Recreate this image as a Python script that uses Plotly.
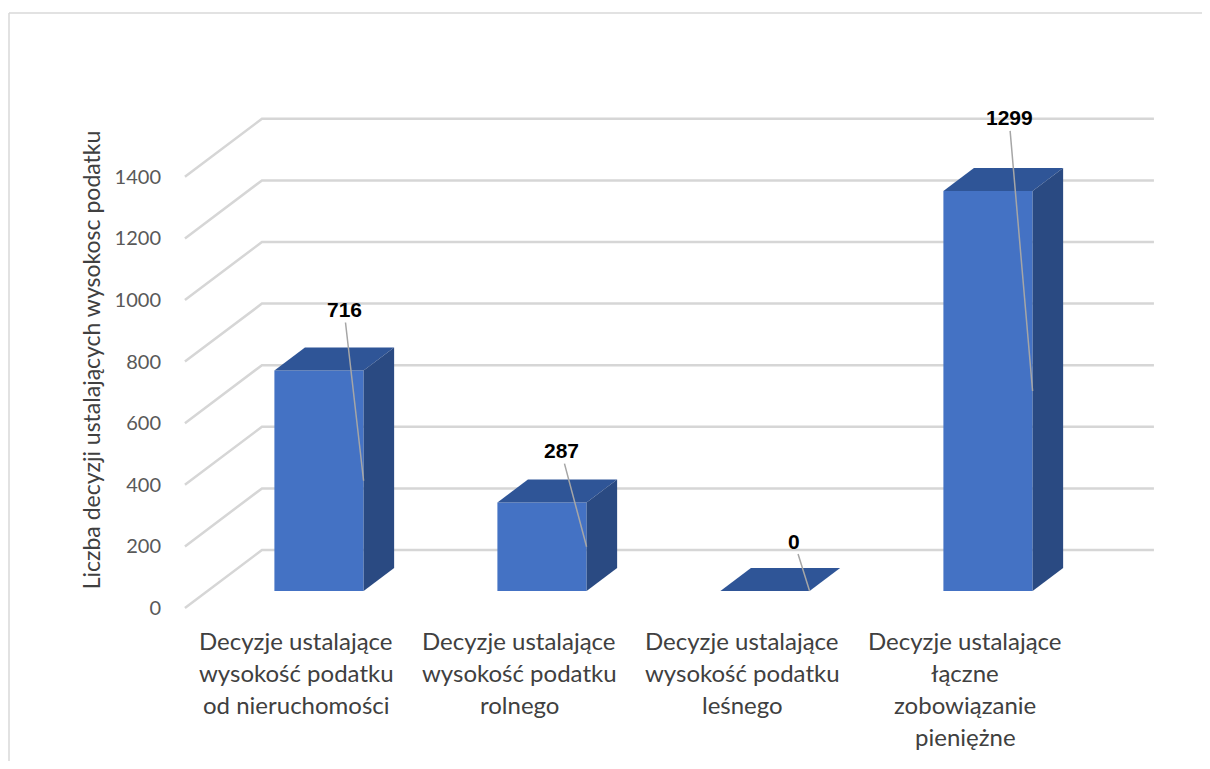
import plotly.graph_objects as go

# ---------------- data ----------------
categories = [
    "Decyzje ustalające<br>wysokość podatku<br>od nieruchomości",
    "Decyzje ustalające<br>wysokość podatku<br>rolnego",
    "Decyzje ustalające<br>wysokość podatku<br>leśnego",
    "Decyzje ustalające<br>łączne<br>zobowiązanie<br>pieniężne",
]
values = [716, 287, 0, 1299]
y_ticks = [0, 200, 400, 600, 800, 1000, 1200, 1400]
y_title = "Liczba decyzji ustalających wysokosc podatku"

# ---------------- styling / geometry ----------------
OFF = 8                                    # browser body margin
W, H = 1210 - 2 * OFF, 769 - 2 * OFF
L, R, T, B = 170, 1160, 100, 620          # plot area in screen px
CAT_PX = 223.0                             # px per category
X_ORIGIN_PX = 207.5                        # px of left edge of category band (bar front plane)
ZERO_PX = 591.0                            # px of value 0 at bar front plane
K = 0.308                                  # px per value unit
SLOPE = 77.0 / 58.0                        # depth: dx px per dy px
BAR_W = 0.4
D_AXIS_FRONT, D_BAR_BACK, D_WALL = -17.0, 23.0, 41.0

FRONT = "#4472C4"
TOP = "#2F5597"
SIDE = "#2A4A82"
GRID = "#d6d6d6"
FONT = "Lato, Open Sans, sans-serif"

# label offsets (px) relative to bar top centre
LABEL_DX_PX = [25, 19, 29, 21]
LABEL_DY_PX = [61, 52, 50, 73]

x0 = (L - X_ORIGIN_PX) / CAT_PX - 0.5
x1 = x0 + (R - L) / CAT_PX
y1 = (ZERO_PX - T) / K
y0 = (ZERO_PX - B) / K


def proj(x, v, d):
    """Shift a point (category x, value v) back by depth d (px)."""
    return x + SLOPE * d / CAT_PX, v + d / K


n = len(categories)
fig = go.Figure()

# ---------- gridlines (left wall + back wall), drawn beneath the bars ----------
for v in y_ticks:
    a = proj(-0.5, v, D_AXIS_FRONT)
    b = proj(-0.5, v, D_WALL)
    c = proj(n - 0.5, v, D_WALL)
    fig.add_shape(type="path", xref="x", yref="y", layer="below",
                  path=f"M {a[0]},{a[1]} L {b[0]},{b[1]} L {c[0]},{c[1]}",
                  line=dict(color=GRID, width=2.5))

# ---------- bars ----------
fig.add_trace(go.Bar(x=list(range(n)), y=values, width=BAR_W,
                     marker=dict(color=FRONT, line=dict(width=0)),
                     hoverinfo="skip", showlegend=False))

for i, v in enumerate(values):
    xl, xr = i - BAR_W / 2, i + BAR_W / 2
    # top face
    p = [(xl, v), (xr, v), proj(xr, v, D_BAR_BACK), proj(xl, v, D_BAR_BACK), (xl, v)]
    fig.add_trace(go.Scatter(x=[q[0] for q in p], y=[q[1] for q in p], mode="lines",
                             fill="toself", fillcolor=TOP, line=dict(width=0, color=TOP),
                             hoverinfo="skip", showlegend=False))
    # side face
    if v > 0:
        p = [(xr, 0), (xr, v), proj(xr, v, D_BAR_BACK), proj(xr, 0, D_BAR_BACK), (xr, 0)]
        fig.add_trace(go.Scatter(x=[q[0] for q in p], y=[q[1] for q in p], mode="lines",
                                 fill="toself", fillcolor=SIDE, line=dict(width=0, color=SIDE),
                                 hoverinfo="skip", showlegend=False))

# ---------- data labels with leader lines ----------
for i, v in enumerate(values):
    fig.add_annotation(
        x=i + BAR_W / 2, y=v / 2, xref="x", yref="y",
        ax=i + LABEL_DX_PX[i] / CAT_PX, ay=v + LABEL_DY_PX[i] / K,
        axref="x", ayref="y",
        text=f"<b>{v}</b>", showarrow=True, arrowhead=0, arrowwidth=1.5,
        arrowcolor="#a6a6a6", standoff=0, startstandoff=0,
        font=dict(family="Liberation Sans, Arial", size=21, color="#000000"),
    )

# ---------- category labels ----------
for i, c in enumerate(categories):
    cx, cy = proj(i, 0, D_AXIS_FRONT)
    for j, line in enumerate(c.split("<br>")):
        fig.add_annotation(x=cx, y=cy, xref="x", yref="y", text=line, showarrow=False,
                           yanchor="middle", xanchor="center", yshift=-32 - 32 * j,
                           font=dict(family=FONT, size=24, color="#404040"))

# ---------- outer border (top + left) ----------
def px2paper_x(px):
    return (px - L) / (R - L)


def px2paper_y(py):
    return (B - py) / (B - T)


fig.add_shape(type="line", xref="paper", yref="paper",
              x0=px2paper_x(9), x1=px2paper_x(1230), y0=px2paper_y(13), y1=px2paper_y(13),
              line=dict(color="#d9d9d9", width=1.5))
fig.add_shape(type="line", xref="paper", yref="paper",
              x0=px2paper_x(9), x1=px2paper_x(9), y0=px2paper_y(13), y1=px2paper_y(790),
              line=dict(color="#d9d9d9", width=1.5))

fig.update_layout(
    width=W, height=H,
    margin=dict(l=L - OFF, r=(W + OFF) - R, t=T - OFF, b=(H + OFF) - B, pad=0),
    paper_bgcolor="white", plot_bgcolor="white",
    showlegend=False,
    xaxis=dict(range=[x0, x1], visible=False, fixedrange=True),
    yaxis=dict(
        range=[y0, y1],
        tickvals=[v + D_AXIS_FRONT / K for v in y_ticks],
        ticktext=[str(v) for v in y_ticks],
        showgrid=False, zeroline=False, showline=False, ticks="",
        ticklabelstandoff=8,
        tickfont=dict(family=FONT, size=20, color="#595959"),
        title=dict(text=y_title, standoff=7,
                   font=dict(family=FONT, size=23, color="#404040")),
        fixedrange=True,
    ),
)

fig.write_html("out.html")
